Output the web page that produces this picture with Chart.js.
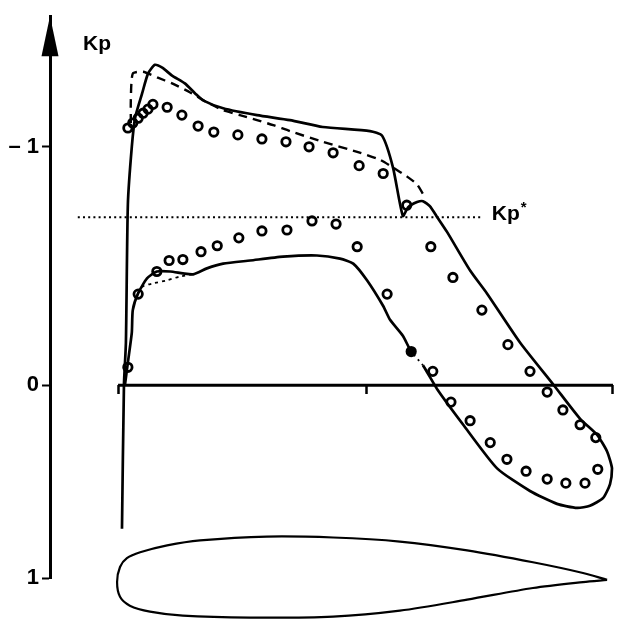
<!DOCTYPE html>
<html>
<head>
<meta charset="utf-8">
<script src="https://cdn.jsdelivr.net/npm/chart.js@4.4.1/dist/chart.umd.min.js"></script>
<style>
  html, body { margin: 0; padding: 0; background: #fff; }
  #wrap { width: 623px; height: 620px; position: relative; }
</style>
</head>
<body>
<div id="wrap"><canvas id="c"></canvas></div>
<script>
// ---- axis ranges (x/c and Kp) ----
const X_MIN = -0.1446, X_MAX = 1.0;
const Y_MIN = -1.548, Y_MAX = 0.809;

// ---- tick labels ----
const yTickValues = [-1, 0, Y_MAX];
const yTickLabels = ['\u2013 1', '0', '1'];
const xTickValues = [-0.006, 0.5, 1.0];

// ---- solid line (upper surface -> trailing edge loop -> lower surface) ----
const solidX = [0.002, 0.006, 0.010, 0.014, 0.022, 0.029, 0.043, 0.055, 0.069, 0.084,
  0.104, 0.130, 0.151, 0.167, 0.208, 0.277, 0.344, 0.411, 0.507, 0.532,
  0.554, 0.574, 0.585, 0.603, 0.615, 0.629, 0.644, 0.664, 0.711, 0.745,
  0.813, 0.880, 0.935, 0.969, 0.990, 1.000, 0.996, 0.982, 0.955, 0.929,
  0.888, 0.833, 0.766, 0.697, 0.644, 0.615, 0.591, 0.574, 0.548, 0.534,
  0.501, 0.473, 0.446, 0.399, 0.330, 0.263, 0.208, 0.175, 0.147, 0.126,
  0.100, 0.073, 0.053, 0.035, 0.024, 0.022, 0.014, 0.008];
const solidY = [0.602, 0.000, -0.178, -0.759, -1.000, -1.124, -1.224, -1.307, -1.344, -1.332,
  -1.299, -1.266, -1.224, -1.195, -1.162, -1.133, -1.112, -1.083, -1.066, -1.046,
  -0.913, -0.710, -0.747, -0.768, -0.772, -0.751, -0.705, -0.643, -0.481, -0.386,
  -0.178, -0.004, 0.141, 0.207, 0.278, 0.349, 0.415, 0.473, 0.506, 0.515,
  0.498, 0.444, 0.349, 0.166, 0.017, -0.083, -0.141, -0.207, -0.274, -0.332,
  -0.440, -0.510, -0.531, -0.544, -0.539, -0.523, -0.510, -0.490, -0.465, -0.469,
  -0.477, -0.477, -0.448, -0.386, -0.315, -0.220, -0.095, 0.000];
const solidGapIndex = 45; // segment drawn dotted (between index 45 and 46)

// ---- dashed line, upper surface ----
const dashUpX = [0.020, 0.020, 0.024, 0.045, 0.075, 0.104, 0.141, 0.175, 0.208, 0.242,
  0.277, 0.310, 0.344, 0.411, 0.481, 0.527, 0.554, 0.582, 0.603, 0.619];
const dashUpY = [-1.100, -1.195, -1.307, -1.315, -1.290, -1.266, -1.228, -1.187, -1.154, -1.133,
  -1.112, -1.091, -1.066, -1.021, -0.979, -0.946, -0.913, -0.876, -0.842, -0.788];

// ---- dashed line, lower surface (near leading edge) ----
const dashLowX = [0.035, 0.045, 0.065, 0.094, 0.120, 0.147];
const dashLowY = [-0.386, -0.415, -0.427, -0.440, -0.456, -0.465];

// ---- measured points (circles) ----
const upperPtsX = [0.014, 0.024, 0.035, 0.045, 0.055, 0.065, 0.094, 0.124, 0.157, 0.189,
  0.238, 0.287, 0.336, 0.383, 0.432, 0.485, 0.534, 0.582, 0.631, 0.676,
  0.735, 0.788, 0.833, 0.868, 0.900, 0.935, 0.967];
const upperPtsY = [-1.079, -1.100, -1.120, -1.141, -1.158, -1.178, -1.166, -1.133, -1.087, -1.062,
  -1.050, -1.033, -1.021, -1.000, -0.975, -0.921, -0.888, -0.755, -0.581, -0.452,
  -0.315, -0.170, -0.058, 0.029, 0.104, 0.166, 0.220];
const lowerPtsX = [0.014, 0.035, 0.073, 0.098, 0.126, 0.163, 0.196, 0.240, 0.287, 0.338,
  0.389, 0.438, 0.481, 0.542, 0.591, 0.635, 0.672, 0.711, 0.752, 0.786,
  0.825, 0.868, 0.906, 0.945, 0.971];
const lowerPtsY = [-0.075, -0.382, -0.477, -0.523, -0.527, -0.560, -0.585, -0.618, -0.647, -0.651,
  -0.689, -0.676, -0.581, -0.382, -0.141, -0.058, 0.071, 0.149, 0.241, 0.311,
  0.361, 0.394, 0.411, 0.411, 0.353];
const lowerFilledIndex = 14;

// ---- critical pressure line Kp* ----
const kpStarValue = -0.705;
const kpStarX = [-0.088, 0.737];

// ---- chord (Kp = 0) line ----
const zeroLineX = [-0.006, 1.002];

// ---- airfoil outline sketch (TE -> upper -> LE -> lower -> TE) ----
const airfoilX = [0.990, 0.941, 0.839, 0.705, 0.568, 0.432, 0.297, 0.161, 0.094, 0.039,
  0.012, -0.002, -0.008, -0.002, 0.018, 0.059, 0.126, 0.263, 0.432, 0.568,
  0.705, 0.839, 0.941, 0.990];
const airfoilY = [0.817, 0.788, 0.743, 0.693, 0.656, 0.639, 0.635, 0.651, 0.672, 0.701,
  0.726, 0.763, 0.826, 0.888, 0.925, 0.950, 0.967, 0.975, 0.971, 0.946,
  0.900, 0.851, 0.826, 0.817];

const FONT = '"Liberation Sans", Arial, sans-serif';
const zip = (xs, ys) => xs.map((x, i) => ({ x, y: ys[i] }));

const lineDefaults = {
  showLine: true, pointRadius: 0, pointHoverRadius: 0, borderColor: '#000',
  backgroundColor: 'transparent', fill: false, clip: false
};

const decorPlugin = {
  id: 'decor',
  afterDraw(chart) {
    const ctx = chart.ctx;
    const a = chart.chartArea;
    ctx.save();
    // arrow head on the Kp axis
    ctx.fillStyle = '#000';
    ctx.beginPath();
    ctx.moveTo(a.left, a.top);
    ctx.lineTo(a.left - 8.5, a.top + 40);
    ctx.lineTo(a.left + 8.5, a.top + 40);
    ctx.closePath();
    ctx.fill();
    // axis title
    ctx.font = 'bold 21px ' + FONT;
    ctx.textBaseline = 'alphabetic';
    ctx.textAlign = 'left';
    ctx.fillText('Kp', a.left + 33, a.top + 34);
    // Kp* label at end of dotted line
    const meta = chart.getDatasetMeta(5);
    const last = meta.data[meta.data.length - 1];
    ctx.font = 'bold 21px ' + FONT;
    const w = ctx.measureText('Kp').width;
    ctx.fillText('Kp', last.x + 9, last.y + 3);
    ctx.font = 'bold 15px ' + FONT;
    ctx.fillText('*', last.x + 9 + w + 1, last.y - 5);
    ctx.restore();
  }
};

new Chart(document.getElementById('c'), {
  type: 'scatter',
  data: {
    datasets: [
      {
        label: 'upper measured', data: zip(upperPtsX, upperPtsY),
        pointStyle: 'circle', pointRadius: 4.2, pointBorderWidth: 2.8,
        pointBorderColor: '#000', pointBackgroundColor: 'transparent', clip: false
      },
      {
        label: 'lower measured', data: zip(lowerPtsX, lowerPtsY),
        pointStyle: 'circle', pointRadius: 4.2, pointBorderWidth: 2.8,
        pointBorderColor: '#000',
        pointBackgroundColor: c => c.dataIndex === lowerFilledIndex ? '#000' : 'transparent',
        clip: false
      },
      Object.assign({}, lineDefaults, {
        label: 'solid', data: zip(solidX, solidY), borderWidth: 2.7, tension: 0.2,
        segment: { borderDash: c => c.p0DataIndex === solidGapIndex ? [2, 4] : undefined,
                   borderWidth: c => c.p0DataIndex === solidGapIndex ? 1.8 : undefined }
      }),
      Object.assign({}, lineDefaults, {
        label: 'dashed upper', data: zip(dashUpX, dashUpY), borderWidth: 2.4,
        borderDash: [9, 6], tension: 0.2
      }),
      Object.assign({}, lineDefaults, {
        label: 'dashed lower', data: zip(dashLowX, dashLowY), borderWidth: 1.8,
        borderDash: [3, 4], tension: 0.2
      }),
      Object.assign({}, lineDefaults, {
        label: 'Kp*', data: kpStarX.map(x => ({ x, y: kpStarValue })), borderWidth: 2,
        borderDash: [2, 3.2], tension: 0
      }),
      Object.assign({}, lineDefaults, {
        label: 'chord', data: zeroLineX.map(x => ({ x, y: 0 })), borderWidth: 3, tension: 0
      }),
      Object.assign({}, lineDefaults, {
        label: 'airfoil', data: zip(airfoilX, airfoilY), borderWidth: 2.2, tension: 0.3
      })
    ]
  },
  options: {
    responsive: true,
    maintainAspectRatio: false,
    animation: false,
    events: [],
    layout: { padding: { left: 0, top: 10, right: 11, bottom: 42 } },
    plugins: { legend: { display: false }, tooltip: { enabled: false }, title: { display: false } },
    scales: {
      x: {
        type: 'linear', min: X_MIN, max: X_MAX, position: { y: 0 },
        border: { display: false },
        grid: { drawOnChartArea: false, drawTicks: true, tickLength: 9, tickWidth: 2.5, tickColor: '#000' },
        ticks: { display: false },
        afterBuildTicks: s => { s.ticks = xTickValues.map(v => ({ value: v })); }
      },
      y: {
        type: 'linear', min: Y_MIN, max: Y_MAX, reverse: true, position: 'left',
        border: { display: true, width: 3, color: '#000' },
        grid: { drawOnChartArea: false, drawTicks: true, tickLength: 8, tickWidth: 2, tickColor: '#000' },
        ticks: {
          color: '#000', padding: 3, font: { family: FONT, size: 22, weight: 'bold' },
          callback: (v, i) => yTickLabels[i]
        },
        afterBuildTicks: s => { s.ticks = yTickValues.map(v => ({ value: v })); },
        afterFit: s => { s.width = 50; }
      }
    }
  },
  plugins: [decorPlugin]
});
</script>
</body>
</html>
